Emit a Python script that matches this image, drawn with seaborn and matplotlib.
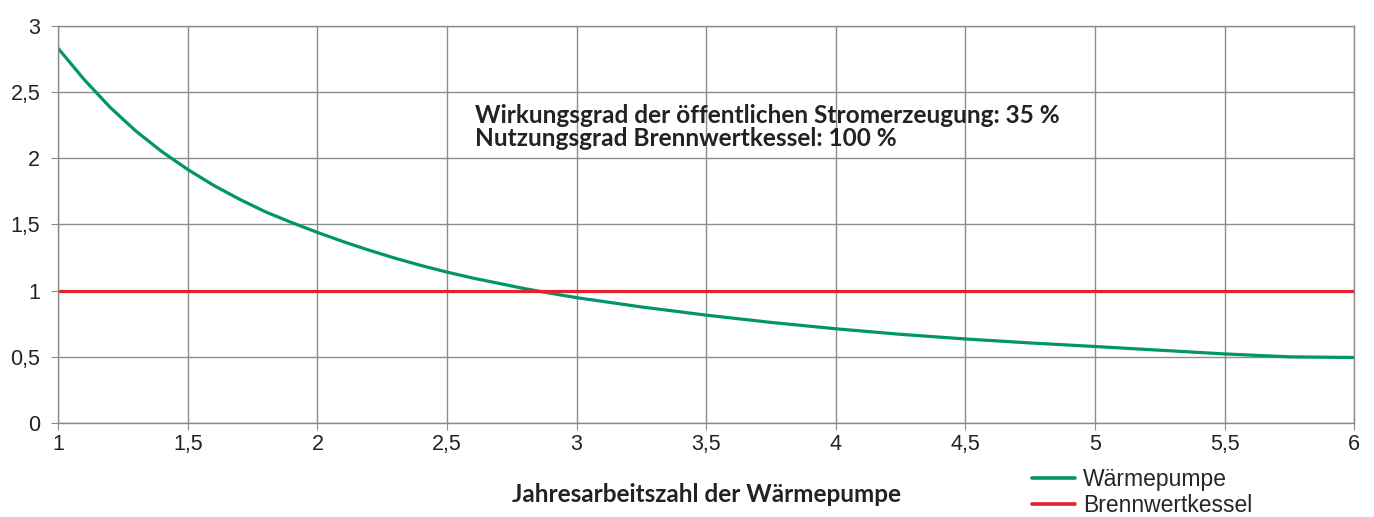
import matplotlib
matplotlib.use("Agg")
import matplotlib.pyplot as plt
from matplotlib.ticker import FuncFormatter, MultipleLocator
import pandas as pd
import seaborn as sns

# Jahresarbeitszahl (x) und Primärenergie-Verhältnis (y)
jaz = [1.0, 1.1, 1.2, 1.3, 1.4, 1.5, 1.6, 1.7, 1.8, 1.9,
       2.0, 2.1, 2.2, 2.3, 2.4, 2.5, 2.6, 2.7, 2.8, 2.9,
       3.0, 3.25, 3.5, 3.75, 4.0, 4.25, 4.5, 4.75, 5.0, 5.25, 5.5, 5.75, 6.0]
waermepumpe = [2.83, 2.595, 2.385, 2.205, 2.05, 1.915, 1.795, 1.69, 1.595, 1.515,
               1.44, 1.37, 1.305, 1.245, 1.19, 1.14, 1.095, 1.055, 1.015, 0.98,
               0.947, 0.877, 0.815, 0.76, 0.712, 0.67, 0.635, 0.605, 0.578, 0.55,
               0.522, 0.50, 0.495]
kessel_x = [1.0, 6.0]
kessel_y = [1.0, 1.0]

series_names = ["Wärmepumpe", "Brennwertkessel"]
colors = ["#00956b", "#e5232d"]

df = pd.concat([
    pd.DataFrame({"x": jaz, "y": waermepumpe, "serie": series_names[0]}),
    pd.DataFrame({"x": kessel_x, "y": kessel_y, "serie": series_names[1]}),
])

sns.set_style("white")
plt.rcParams["font.family"] = ["Liberation Sans", "DejaVu Sans"]

fig = plt.figure(figsize=(13.74, 5.17), dpi=100)
ax = fig.add_axes([0.0424, 0.1818, 0.9432, 0.768])

sns.lineplot(data=df, x="x", y="y", hue="serie", palette=colors,
             linewidth=2.3, ax=ax, legend=False)

ax.set_xlim(1, 6)
ax.set_ylim(0, 3)
ax.xaxis.set_major_locator(MultipleLocator(0.5))
ax.yaxis.set_major_locator(MultipleLocator(0.5))
fmt = FuncFormatter(lambda v, p: ("%g" % v).replace(".", ","))
ax.xaxis.set_major_formatter(fmt)
ax.yaxis.set_major_formatter(fmt)
ax.grid(True, color="#8c8c8c", linewidth=1)
ax.set_axisbelow(True)
for s in ax.spines.values():
    s.set_color("#8c8c8c")
    s.set_linewidth(1)
ax.tick_params(axis="both", which="major", length=5, color="#8c8c8c",
               labelsize=15.5, labelcolor="#222222", bottom=True, left=True)
ax.tick_params(axis="x", pad=3)
ax.tick_params(axis="y", pad=8)
ax.set_ylabel("")
ax.set_xlabel("Jahresarbeitszahl der Wärmepumpe", fontsize=17.5, fontweight="bold",
              family=["Lato", "DejaVu Sans"], color="#222222", labelpad=20)

ax.text(0.3215, 0.746, "Wirkungsgrad der öffentlichen Stromerzeugung: 35 %\n"
        "Nutzungsgrad Brennwertkessel: 100 %",
        transform=ax.transAxes, fontsize=17.6, fontweight="bold",
        family=["Lato", "DejaVu Sans"], color="#222222", va="center",
        linespacing=1.02)

handles = [plt.Line2D([], [], color=c, linewidth=2.6) for c in colors]
ax.legend(handles, series_names, loc="upper left", bbox_to_anchor=(0.751, -0.113),
          frameon=False, fontsize=16.5, handlelength=1.88, handletextpad=0.35,
          labelspacing=0.15, borderaxespad=0, borderpad=0)

fig.savefig("out.png", dpi=100)
